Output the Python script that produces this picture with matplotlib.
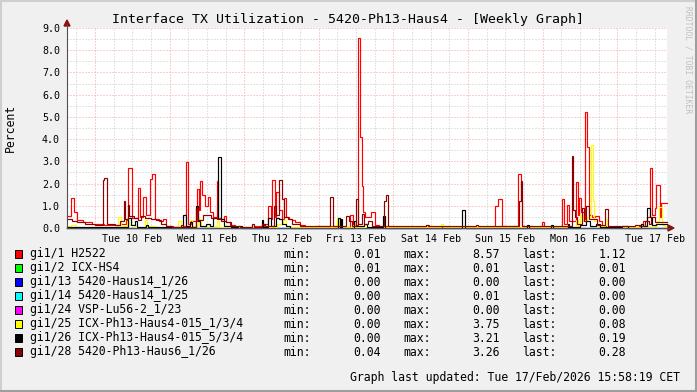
import matplotlib
matplotlib.use("Agg")
import matplotlib.pyplot as plt
from matplotlib.lines import Line2D
from matplotlib.patches import Rectangle, Polygon

W, H = 697, 392

# time axis: hours since Mon 09 Feb 15:00, 193 h shown
span = 193
first_midnight = 9
day_labels = ["Tue 10 Feb", "Wed 11 Feb", "Thu 12 Feb", "Fri 13 Feb",
              "Sat 14 Feb", "Sun 15 Feb", "Mon 16 Feb", "Tue 17 Feb"]
y_ticks = [0, 1, 2, 3, 4, 5, 6, 7, 8, 9]

names = ["gi1/1 H2522", "gi1/2 ICX-HS4", "gi1/13 5420-Haus14_1/26",
         "gi1/14 5420-Haus14_1/25", "gi1/24 VSP-Lu56-2_1/23",
         "gi1/25 ICX-Ph13-Haus4-015_1/3/4", "gi1/26 ICX-Ph13-Haus4-015_5/3/4",
         "gi1/28 5420-Ph13-Haus6_1/26"]
colors = ["#FF0000", "#00FF00", "#0000FF", "#00FFFF", "#FF00FF",
          "#FFFF00", "#000000", "#8B0000"]
mins = [0.01, 0.01, 0.00, 0.00, 0.00, 0.00, 0.00, 0.04]
maxs = [8.57, 0.01, 0.00, 0.01, 0.00, 3.75, 3.21, 3.26]
lasts = [1.12, 0.01, 0.00, 0.00, 0.00, 0.08, 0.19, 0.28]

# (hour, percent) step points
h2522 = [(0, 0.55), (1.3, 1.35), (2.3, 0.72), (3.3, 0.35), (5, 0.25), (8, 0.2),
         (12, 0.15), (17, 0.2), (19.0, 0.35), (19.6, 2.7), (21.0, 0.45),
         (22.8, 1.8), (23.5, 0.5), (24.5, 1.4), (25.5, 0.6), (26.7, 2.2),
         (27.3, 2.45), (28.3, 0.4), (29.5, 0.3), (31, 0.4), (32, 0.1),
         (34, 0.05), (37.6, 0.1), (38.3, 2.95), (39.0, 0.2), (40, 0.3),
         (41.8, 1.75), (42.5, 0.8), (42.8, 2.1), (43.5, 1.5), (44.3, 1.0),
         (45.3, 1.4), (46.0, 0.7), (47.0, 0.5), (48.2, 2.1), (48.6, 0.45),
         (49.5, 0.4), (50.5, 0.55), (51.3, 0.25), (52.5, 0.15), (54, 0.05),
         (60, 0.1), (63.5, 0.2), (64.7, 1.0), (65.6, 0.4), (65.9, 2.15),
         (67.0, 0.5), (67.3, 1.6), (68.2, 0.8), (69.3, 0.4), (69.8, 1.35),
         (70.5, 0.5), (71.5, 0.4), (72.5, 0.35), (73.5, 0.25), (75, 0.15),
         (76.5, 0.05), (80, 0.08), (86, 0.05), (91.0, 0.6), (92.0, 0.15),
         (93.7, 8.57), (94.4, 4.1), (94.8, 1.9), (95.3, 0.7), (96.0, 0.5),
         (97.8, 0.7), (99.1, 0.15), (100.5, 0.1), (104, 0.05), (115.5, 0.15),
         (116.5, 0.05), (120, 0.03), (137.8, 1.0), (138.6, 1.3), (139.8, 0.1),
         (145.0, 2.45), (145.9, 1.2), (146.3, 0.1), (149.5, 0.05),
         (152.8, 0.25), (153.4, 0.05), (159.2, 1.3), (159.8, 0.2),
         (160.7, 1.05), (161.4, 0.3), (163.8, 2.05), (164.4, 0.6),
         (164.7, 1.35), (165.4, 0.7), (166.4, 0.4), (166.7, 5.2), (167.3, 3.65),
         (167.9, 0.6), (168.9, 0.5), (169.9, 0.55), (171.0, 0.3), (172.0, 0.1),
         (174.0, 0.05), (184.0, 0.1), (185.3, 0.3), (186.6, 0.5), (187.5, 2.7),
         (188.2, 0.6), (189.0, 0.9), (189.6, 1.95), (190.6, 0.5), (191.2, 1.12)]
icx_hs4 = [(0, 0.01)]
haus14_26 = [(0, 0.0)]
haus14_25 = [(0, 0.0), (70, 0.01), (71, 0.0)]
lu56 = [(0, 0.0)]
haus4_134 = [(0, 0.1), (1.3, 0.15), (3, 0.05), (16.4, 0.5), (17.4, 0.1),
             (19.2, 0.3), (20, 0.15), (22, 0.05), (25, 0.35), (25.7, 0.1),
             (28.5, 0.04), (35.7, 0.3), (36.7, 0.04), (39.6, 0.35), (40.2, 0.1),
             (42.2, 0.4), (43, 0.1), (48.2, 0.3), (49, 0.04), (67.5, 0.2),
             (69.5, 0.35), (70.5, 0.1), (72, 0.03), (86.7, 0.4), (87.4, 0.03),
             (92, 0.15), (92.8, 0.03), (113.5, 0.1), (114, 0.03), (120.3, 0.2),
             (121, 0.03), (163.8, 0.35), (164.4, 0.05), (165, 0.6), (166.1, 0.3),
             (167.4, 0.5), (168.6, 3.75), (169.3, 1.2), (169.6, 0.3),
             (170.5, 0.1), (173, 0.4), (173.8, 0.04), (184.7, 0.2), (186, 0.1),
             (189.8, 0.3), (190.5, 0.95), (191.4, 0.15), (192, 0.08)]
haus4_534 = [(0, 0.06), (1.6, 0.03), (17.1, 0.06), (19.6, 0.45), (20.6, 0.12),
             (21.9, 0.3), (22.5, 0.03), (25.4, 0.15), (26.1, 0.03), (37.3, 0.6),
             (38.3, 0.08), (39.6, 0.25), (40.2, 0.03), (41.5, 1.0), (42.0, 0.3),
             (42.8, 0.1), (44.7, 0.2), (46.0, 0.1), (47.0, 0.45), (48.6, 3.21),
             (49.5, 0.4), (50.5, 0.1), (52.8, 0.03), (55.0, 0.08), (56.3, 0.01),
             (62.7, 0.35), (63.2, 0.03), (64.7, 0.45), (65.6, 0.1), (67.2, 0.45),
             (68.2, 0.4), (69.2, 0.2), (70.5, 0.1), (71.8, 0.02), (87.2, 0.45),
             (87.7, 0.02), (88.1, 0.4), (88.6, 0.02), (92.3, 0.3), (92.9, 0.08),
             (95.6, 0.2), (96.5, 0.06), (101.7, 0.55), (102.3, 0.02),
             (127.1, 0.8), (128.0, 0.01), (148.0, 0.15), (148.6, 0.01),
             (155.7, 0.15), (156.4, 0.01), (161.2, 0.2), (161.6, 0.03),
             (165.0, 0.15), (167.0, 0.3), (168.3, 0.1), (170.2, 0.2),
             (171.5, 0.03), (178.6, 0.1), (180.6, 0.01), (184.7, 0.2),
             (185.3, 0.1), (186.6, 0.9), (187.4, 0.5), (188.2, 0.15),
             (189.5, 0.2), (191.4, 0.19)]
haus6_126 = [(0, 0.4), (1.6, 0.3), (3.2, 0.25), (5.8, 0.2), (9, 0.15),
             (11.6, 2.15), (11.9, 2.25), (12.9, 0.2), (15.4, 0.15), (17.1, 0.3),
             (18.3, 1.2), (18.8, 0.4), (19.5, 1.05), (20.1, 0.55), (21.6, 0.45),
             (22.8, 0.35), (23.8, 0.55), (25.1, 0.45), (27.0, 0.4), (28.6, 0.35),
             (30.2, 0.2), (31.8, 0.1), (33.8, 0.06), (36.7, 0.15), (37.3, 0.06),
             (41.5, 0.9), (42.0, 0.35), (43.8, 0.6), (46.3, 0.45), (48.3, 0.4),
             (49.5, 0.3), (51.2, 0.25), (52.8, 0.1), (55.7, 0.06), (59.5, 0.2),
             (60.2, 0.06), (62.7, 0.2), (63.7, 0.1), (66.6, 1.0), (67.2, 0.6),
             (68.2, 2.15), (69.2, 1.3), (69.7, 0.5), (71.2, 0.4), (72.4, 0.2),
             (75.0, 0.08), (84.6, 1.4), (85.6, 0.08), (89.8, 0.55), (90.7, 0.3),
             (91.7, 0.1), (93.1, 1.3), (93.6, 0.2), (94.9, 0.65), (95.6, 0.2),
             (96.8, 0.3), (98.1, 0.1), (102.0, 1.2), (102.5, 1.5), (103.3, 0.08),
             (115.5, 0.15), (116.1, 0.07), (131.6, 0.15), (132.2, 0.07),
             (139.9, 0.1), (145.4, 1.2), (145.9, 2.1), (146.3, 0.08),
             (162.3, 3.26), (162.8, 0.8), (163.4, 0.5), (164.1, 0.2),
             (165.7, 0.9), (166.3, 0.3), (167.0, 1.0), (168.0, 0.4),
             (170.5, 0.15), (173.1, 0.85), (174.1, 0.08), (182.7, 0.15),
             (184.3, 0.1), (185.8, 0.3), (187.1, 0.2), (188.0, 0.5),
             (189.0, 0.28)]
series = [h2522, icx_hs4, haus14_26, haus14_25, lu56, haus4_134, haus4_534, haus6_126]

mono = "DejaVu Sans Mono"
plt.rcParams["font.family"] = mono


def fx(x):
    return x / W


def fy(y):
    return 1 - y / H


fig = plt.figure(figsize=(W / 100, H / 100), dpi=100, facecolor="#F0F0F0")
ax = fig.add_axes([fx(67), fy(228), 600 / W, 200 / H])
ax.set_facecolor("white")
ax.set_xlim(0, span)
ax.set_ylim(0, 9)
for s in ax.spines.values():
    s.set_visible(False)

# grid
minor_kw = dict(color="#C8C8C8", lw=0.72, ls=(0, (1, 2)), zorder=0)
major_kw = dict(color="#F4A0A0", lw=0.72, ls=(0, (1, 2)), zorder=0)
for y in y_ticks:
    if y < 9:
        ax.axhline(y + 0.5, **minor_kw)
    if y > 0:
        ax.axhline(y, **major_kw)
h = first_midnight - 6
while h < span:
    if (h - first_midnight) % 24 == 0:
        ax.axvline(h, **major_kw)
    elif h > 0:
        ax.axvline(h, **minor_kw)
    h += 6

# series
for data, c in zip(series, colors):
    t = [p[0] for p in data] + [span]
    v = [p[1] for p in data] + [data[-1][1]]
    ax.step(t, v, where="post", color=c, lw=0.85, clip_on=False, zorder=3,
            solid_joinstyle="miter")

ax.set_yticks(y_ticks, [f"{y:.1f}" for y in y_ticks])
ax.set_xticks([first_midnight + 12 + 24 * i for i in range(len(day_labels))], day_labels)
ax.tick_params(length=0, labelsize=7.2)
ax.tick_params(axis="y", pad=5)
ax.tick_params(axis="x", pad=4)

# axes with arrows
fig.add_artist(Line2D([fx(67), fx(67)], [fy(228), fy(25)], color="#505050", lw=0.8))
fig.add_artist(Line2D([fx(67), fx(669)], [fy(228), fy(228)], color="#505050", lw=0.8))
fig.add_artist(Polygon([(fx(67), fy(20)), (fx(64), fy(26)), (fx(70), fy(26))],
                       closed=True, color="#8B1010", transform=fig.transFigure))
fig.add_artist(Polygon([(fx(674), fy(228)), (fx(668), fy(225)), (fx(668), fy(231))],
                       closed=True, color="#8B1010", transform=fig.transFigure))

fig.text(fx(348), fy(19), "Interface TX Utilization - 5420-Ph13-Haus4 - [Weekly Graph]",
         ha="center", va="center", fontsize=9.5)
fig.text(fx(10), fy(128), "Percent", rotation=90, ha="center", va="center", fontsize=8.3)
fig.text(fx(688), fy(60), "RRDTOOL / TOBI OETIKER", rotation=270, ha="center",
         va="center", fontsize=5.8, color="#C0C0C0")

# legend
for i, (n, c) in enumerate(zip(names, colors)):
    yc = 254 + 14 * i
    fig.add_artist(Rectangle((fx(15), fy(yc + 4)), 7 / W, 8 / H, facecolor=c,
                             edgecolor="black", lw=0.7, transform=fig.transFigure))
    fig.text(fx(30), fy(yc), n, ha="left", va="center", fontsize=8.3)
    fig.text(fx(283.6), fy(yc), "min:", ha="left", va="center", fontsize=8.3)
    fig.text(fx(381), fy(yc), f"{mins[i]:.2f}", ha="right", va="center", fontsize=8.3)
    fig.text(fx(403), fy(yc), "max:", ha="left", va="center", fontsize=8.3)
    fig.text(fx(500), fy(yc), f"{maxs[i]:.2f}", ha="right", va="center", fontsize=8.3)
    fig.text(fx(522), fy(yc), "last:", ha="left", va="center", fontsize=8.3)
    fig.text(fx(626), fy(yc), f"{lasts[i]:.2f}", ha="right", va="center", fontsize=8.3)

fig.text(fx(680), fy(378), "Graph last updated: Tue 17/Feb/2026 15:58:19 CET",
         ha="right", va="center", fontsize=8.3)

# frame
fig.add_artist(Line2D([0, 1], [fy(0.5), fy(0.5)], color="#CFCFCF", lw=1.5))
fig.add_artist(Line2D([fx(0.5), fx(0.5)], [0, 1], color="#CFCFCF", lw=1.5))
fig.add_artist(Line2D([0, 1], [fy(391), fy(391)], color="#9E9E9E", lw=1.5))
fig.add_artist(Line2D([fx(696), fx(696)], [0, 1], color="#9E9E9E", lw=1.5))

fig.savefig("out.png", dpi=100, facecolor=fig.get_facecolor())
